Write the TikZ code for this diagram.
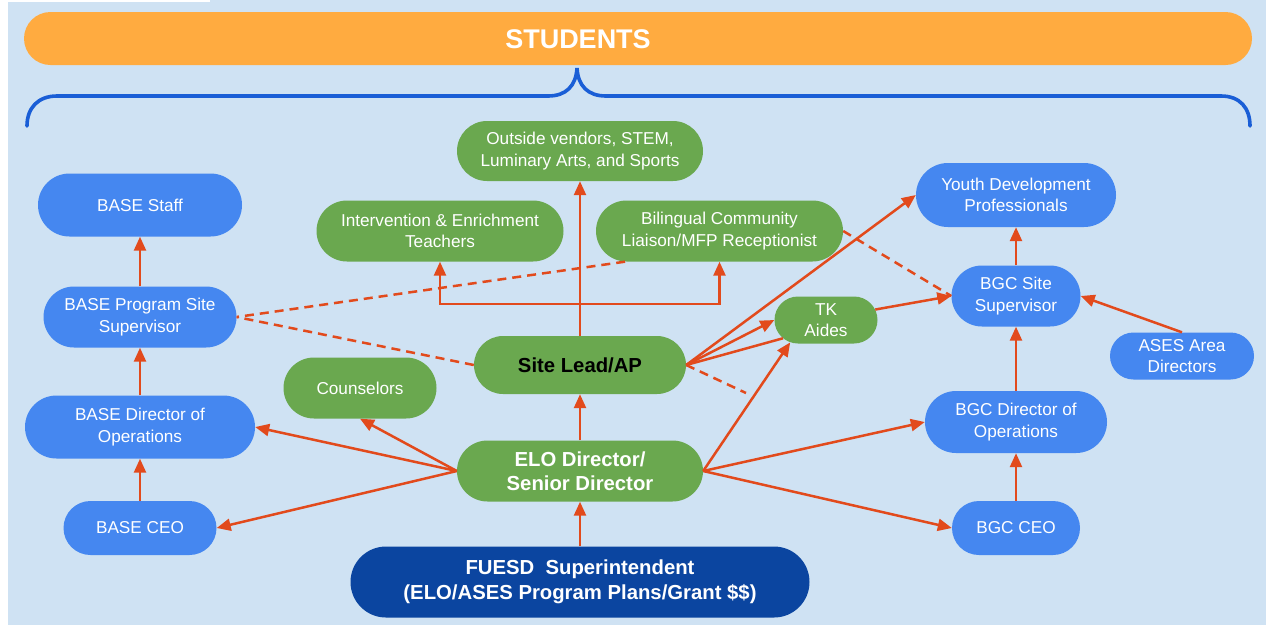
\documentclass[tikz,border=0pt]{standalone}
\usepackage{fontspec}
\setmainfont{Liberation Sans}
\usetikzlibrary{arrows.meta,shapes.misc}
\definecolor{bgc}{HTML}{CFE2F3}
\definecolor{nblue}{HTML}{4587F0}
\definecolor{ngreen}{HTML}{6AA84F}
\definecolor{ndark}{HTML}{0B45A0}
\definecolor{arrowc}{HTML}{E24A1C}
\definecolor{barc}{HTML}{FFAB40}
\definecolor{bracec}{HTML}{1A5ED6}
\newcommand\lblfont{\fontsize{17.2}{21.5}\selectfont}
\newcommand\boldlbl{\fontsize{20.3}{24.5}\selectfont\bfseries}
\tikzset{
  pill/.style={rounded rectangle, draw=none, text=white, align=center, inner sep=0pt, font=\lblfont},
  bluebox/.style={pill, fill=nblue},
  greenbox/.style={pill, fill=ngreen},
  arr/.style={draw=arrowc, line width=2.5pt, -{Triangle[length=14pt,width=12pt]}},
  plainline/.style={draw=arrowc, line width=2.5pt},
  dsh/.style={draw=arrowc, line width=2.5pt, dash pattern=on 9pt off 6pt},
}
\begin{document}
\begin{tikzpicture}[x=1pt,y=-1pt]
\useasboundingbox (0,0) rectangle (1266,625);
\fill[bgc] (8,0) rectangle (1266,625);
\fill[white] (8,0) rectangle (210,1.5);

% students bar and brace
\node[rounded rectangle, fill=barc, minimum width=1228, minimum height=53, inner sep=0pt] (bar) at (638,38.5) {};
\node[text=white, font=\fontsize{27}{30}\selectfont\bfseries, inner sep=0pt] (students) at (578,39) {STUDENTS};
\draw[bracec, line width=3.6pt, line cap=round]
  (27,126) .. controls (27,108) and (38,96) .. (57,96) -- (548,96)
  .. controls (566,96) and (576,86) .. (577,68)
  .. controls (578,86) and (588,96) .. (606,96) -- (1221,96)
  .. controls (1240,96) and (1250,108) .. (1250,126);

% nodes
\node[greenbox, minimum width=246, minimum height=60] (vendors) at (580,151) {Outside vendors, STEM,\\Luminary Arts, and Sports};
\node[bluebox, minimum width=204, minimum height=63] (basestaff) at (140,205) {BASE Staff};
\node[greenbox, minimum width=247, minimum height=61] (interv) at (440,231) {Intervention \& Enrichment\\Teachers};
\node[greenbox, minimum width=247, minimum height=61] (bil) at (719.5,231) {Bilingual Community\\Liaison/MFP Receptionist};
\node[bluebox, minimum width=200, minimum height=64] (youth) at (1016,195) {Youth Development\\Professionals};
\node[bluebox, minimum width=193, minimum height=61] (baseprog) at (140,317) {BASE Program Site\\Supervisor};
\node[bluebox, minimum width=129, minimum height=61] (bgcsite) at (1016,296) {BGC Site\\Supervisor};
\node[greenbox, minimum width=103, minimum height=47] (tk) at (826,320) {TK\\Aides};
\node[greenbox, minimum width=212, minimum height=58, text=black, font=\boldlbl] (site) at (580,365) {Site Lead/AP};
\node[bluebox, minimum width=144, minimum height=47] (ases) at (1182,356) {ASES Area\\Directors};
\node[greenbox, minimum width=153, minimum height=61] (couns) at (360,388) {Counselors};
\node[bluebox, minimum width=230, minimum height=63] (basedir) at (140,427) {BASE Director of\\Operations};
\node[bluebox, minimum width=153, minimum height=54] (baseceo) at (140,528) {BASE CEO};
\node[greenbox, minimum width=246, minimum height=61, font=\boldlbl] (elo) at (580,471) {ELO Director/\\Senior Director};
\node[bluebox, minimum width=182, minimum height=62] (bgcdir) at (1016,422) {BGC Director of\\Operations};
\node[bluebox, minimum width=128, minimum height=54] (bgcceo) at (1016,528) {BGC CEO};
\node[pill, fill=ndark, minimum width=459, minimum height=71, font=\boldlbl] (fuesd) at (580,582) {FUESD\ \ Superintendent\\(ELO/ASES Program Plans/Grant \$\$)};

\coordinate (junc) at (580,304);
\coordinate (dend) at (746,393);

% solid connectors
\draw[arr] (fuesd.north) -- (elo.south);
\draw[arr] (elo.north) -- (site.south);
\draw[arr] (site.north) -- (vendors.south);
\draw[arr] (junc) -| (interv.south);
\draw[arr] (junc) -| (bil.south);
\draw[arr] (elo.west) -- (basedir.east);
\draw[arr] (elo.west) -- (couns.south);
\draw[arr] (elo.west) -- (baseceo.east);
\draw[arr] (elo.east) -- (bgcdir.west);
\draw[arr] (elo.east) -- (bgcceo.west);
\draw[arr] (elo.east) -- (tk.212);
\draw[arr] (site.east) -- (tk.west);
\draw[plainline] (site.east) -- (tk.203);
\draw[arr] (site.east) -- (youth.west);
\draw[arr] (tk.12) -- (bgcsite.west);
\draw[arr] (ases.north) -- (bgcsite.east);
\draw[arr] (bgcsite.north) -- (youth.south);
\draw[arr] (bgcdir.north) -- (bgcsite.south);
\draw[arr] (bgcceo.north) -- (bgcdir.south);
\draw[arr] (baseceo.north) -- (basedir.south);
\draw[arr] (basedir.north) -- (baseprog.south);
\draw[arr] (baseprog.north) -- (basestaff.south);

% dashed connectors
\draw[dsh] (bil.198) -- (baseprog.east);
\draw[dsh] (site.west) -- (baseprog.east);
\draw[dsh] (bil.east) -- (bgcsite.west);
\draw[dsh] (site.east) -- (dend);
\end{tikzpicture}
\end{document}
